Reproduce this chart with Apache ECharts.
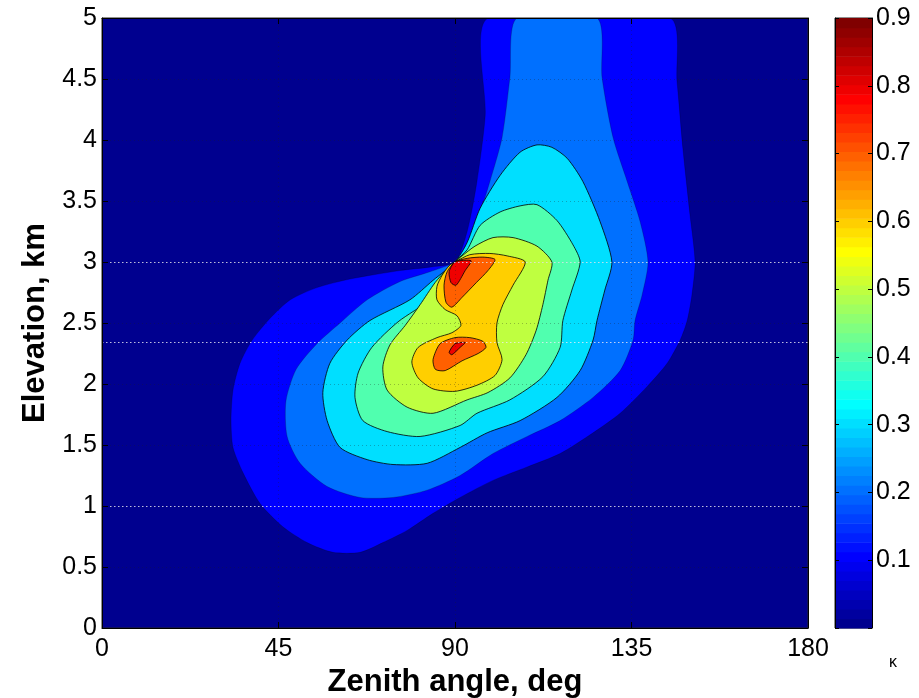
<!DOCTYPE html>
<html>
<head>
<meta charset="utf-8">
<script src="https://cdn.jsdelivr.net/npm/echarts@6/dist/echarts.min.js"></script>
<style>
  html, body { margin: 0; padding: 0; background: #fff; }
  #chart { width: 919px; height: 698px; }
</style>
</head>
<body>
<div id="chart"></div>
<script>
// Filled contours of kappa over zenith angle (deg) and elevation (km).
// Each ring is a closed contour boundary, [zenith angle, elevation] pairs.
const contourLevels = [0.1, 0.2, 0.3, 0.4, 0.5, 0.6, 0.7, 0.8];

const ring01 = [[98.4,5.0],[97.7,4.2],[95.6,3.66],[93.1,3.25],[90,3.0],[84.0,2.96],[76.0,2.93],[63.2,2.86],[54.8,2.79],[48.0,2.69],[42.9,2.54],[38.3,2.36],[35.2,2.17],[33.4,1.95],[32.9,1.70],[33.4,1.48],[36.0,1.27],[40.3,1.02],[46.1,0.83],[52.3,0.70],[58.9,0.62],[65.8,0.62],[71.6,0.70],[77.8,0.80],[84.4,0.94],[91.3,1.07],[99.7,1.21],[108.4,1.32],[116.8,1.43],[125.2,1.60],[132.1,1.76],[139.0,1.98],[144.1,2.17],[147.4,2.36],[149.2,2.52],[150.4,2.73],[151.2,3.0],[149.9,3.39],[148.1,3.93],[146.6,4.48],[144.8,5.0]];

const ring02 = [[105.8,5.0],[104.0,4.51],[102.0,4.02],[98.9,3.66],[95.6,3.33],[92.6,3.11],[90,3.0],[83.6,2.92],[76.0,2.84],[67.6,2.69],[60.7,2.50],[54.8,2.33],[49.5,2.12],[46.9,1.86],[47.2,1.57],[50.5,1.35],[57.4,1.16],[65.8,1.07],[74.2,1.07],[82.9,1.13],[91.3,1.25],[99.7,1.43],[108.4,1.57],[116.8,1.70],[125.2,1.89],[132.1,2.11],[135.4,2.36],[135.9,2.52],[137.7,2.73],[139.2,3.0],[137.2,3.33],[133.9,3.66],[130.3,4.02],[127.5,4.51],[126.2,5.0]];

const ring03 = [[90,3.0],[93.1,3.16],[96.4,3.44],[101.5,3.71],[106.6,3.90],[110.9,3.96],[114.7,3.94],[118.6,3.85],[122.6,3.66],[127.0,3.33],[130.0,3.0],[128.2,2.77],[126.2,2.52],[125.2,2.36],[121.9,2.11],[116.0,1.89],[106.6,1.70],[98.2,1.60],[91.3,1.48],[82.9,1.35],[74.2,1.34],[67.6,1.38],[60.7,1.48],[57.4,1.70],[56.3,1.93],[58.1,2.17],[62.5,2.36],[68.3,2.52],[78.5,2.69],[84.4,2.85]];

const ring04 = [[90,3.0],[93.1,3.10],[96.4,3.30],[101.5,3.41],[106.6,3.46],[110.9,3.47],[116.0,3.34],[120.1,3.14],[121.9,3.0],[119.8,2.77],[117.5,2.52],[116.8,2.30],[112.4,2.06],[104.0,1.87],[95.6,1.76],[91.3,1.66],[81.1,1.57],[72.7,1.61],[66.5,1.70],[64.5,1.89],[65.3,2.09],[68.8,2.30],[75.5,2.51],[83.6,2.69],[87.5,2.85]];

const ring05 = [[90,3.0],[91.8,3.05],[95.1,3.13],[99.7,3.20],[104.8,3.20],[110.9,3.13],[114.7,3.0],[113.7,2.85],[112.4,2.65],[110.7,2.44],[108.1,2.24],[104.0,2.05],[98.4,1.93],[93.1,1.87],[84.4,1.76],[77.8,1.81],[72.7,1.95],[71.6,2.14],[73.4,2.32],[77.3,2.48],[81.1,2.65],[84.9,2.83],[88.2,2.95]];

const ring06 = [[90,3.0],[93.8,3.06],[98.9,3.07],[103.3,3.05],[107.9,3.0],[104.8,2.81],[102.2,2.65],[100.7,2.50],[100.7,2.34],[102.0,2.20],[100.2,2.07],[95.6,1.99],[90.0,1.94],[84.4,1.96],[80.6,2.05],[79.0,2.18],[80.6,2.30],[85.4,2.38],[89.2,2.42],[91.5,2.48],[90.5,2.56],[87.5,2.61],[85.4,2.69],[85.4,2.80],[86.7,2.89],[88.5,2.97]];

const ring07a = [[90,3.0],[93.1,3.03],[97.1,3.04],[100.2,3.02],[98.4,2.93],[95.4,2.83],[91.8,2.71],[89.2,2.63],[87.7,2.67],[87.2,2.81],[88.0,2.92]];
const ring07b = [[84.4,2.20],[86.2,2.33],[90.0,2.38],[93.8,2.38],[97.1,2.35],[97.9,2.30],[95.9,2.25],[91.8,2.19],[87.5,2.11],[85.0,2.12]];

const ring08a = [[90,3.0],[94.1,3.01],[92.6,2.93],[90.3,2.81],[89.0,2.83],[88.5,2.92]];
const ring08b = [[88.5,2.26],[90.0,2.33],[92.6,2.34],[91.3,2.30],[89.2,2.24]];

// Level of each ring, drawn lowest first so higher levels sit on top
const ringLevels = [0.1, 0.2, 0.3, 0.4, 0.5, 0.6, 0.7, 0.7, 0.8, 0.8];
const rings = [ring01, ring02, ring03, ring04, ring05, ring06, ring07a, ring07b, ring08a, ring08b];

// Dotted reference elevations (km)
const markedElevations = [3, 2.34, 1];

// Colour scale limits
const colorMin = 0;
const colorMax = 0.9;

// MATLAB-style 64 entry jet colormap
function jetColor(i) {
  const u = j => (j >= 1 && j <= 16) ? j / 16 : (j >= 17 && j <= 31) ? 1 : (j >= 32 && j <= 47) ? (48 - j) / 16 : 0;
  const r = u(i - 24), g = u(i - 8), b = u(i + 8);
  return 'rgb(' + Math.round(r * 255) + ',' + Math.round(g * 255) + ',' + Math.round(b * 255) + ')';
}
function levelColor(v) {
  const idx = Math.min(64, Math.floor((v - colorMin) / (colorMax - colorMin) * 64 + 1e-9) + 1);
  return jetColor(idx);
}

const FONT = 'Liberation Sans, Arial, Helvetica, sans-serif';
const chart = echarts.init(document.getElementById('chart'), null, { renderer: 'canvas' });

const cmapIndex = [];
for (let i = 1; i <= 64; i++) cmapIndex.push(i);

const option = {
  backgroundColor: '#ffffff',
  animation: false,
  grid: [
    { left: 102, top: 18, width: 706, height: 610, outerBoundsMode: 'none', show: true, backgroundColor: levelColor(0), borderColor: '#222', borderWidth: 1 },
    { left: 835, top: 18, width: 37, height: 610, outerBoundsMode: 'none', show: true, borderColor: '#222', borderWidth: 1 }
  ],
  xAxis: [
    {
      gridIndex: 0, type: 'value', min: 0, max: 180, interval: 45, z: 5,
      name: 'Zenith angle, deg', nameLocation: 'middle', nameGap: 39,
      nameTextStyle: { fontSize: 31, fontWeight: 'bold', color: '#000', fontFamily: FONT },
      axisLine: { show: true, onZero: false, lineStyle: { color: '#000', width: 1 } },
      axisTick: { show: true, inside: true, length: 6, lineStyle: { color: '#000' } },
      axisLabel: { fontSize: 25, color: '#000', margin: 9, fontFamily: FONT },
      splitLine: { show: true, lineStyle: { type: [1, 3], color: 'rgba(30,30,30,0.3)', width: 1 } }
    },
    {
      gridIndex: 0, type: 'value', position: 'top', min: 0, max: 180, interval: 45, z: 5,
      axisLine: { show: true, onZero: false, lineStyle: { color: '#000' } },
      axisTick: { show: true, inside: true, length: 6, lineStyle: { color: '#000' } },
      axisLabel: { show: false }, splitLine: { show: false }
    },
    { gridIndex: 1, type: 'value', min: 0, max: 1, show: false }
  ],
  yAxis: [
    {
      gridIndex: 0, type: 'value', min: 0, max: 5, interval: 0.5, z: 5,
      name: 'Elevation, km', nameLocation: 'middle', nameGap: 47,
      nameTextStyle: { fontSize: 31, fontWeight: 'bold', color: '#000', fontFamily: FONT },
      axisLine: { show: true, onZero: false, lineStyle: { color: '#000', width: 1 } },
      axisTick: { show: true, inside: true, length: 6, lineStyle: { color: '#000' } },
      axisLabel: { fontSize: 25, color: '#000', margin: 5, fontFamily: FONT },
      splitLine: { show: true, lineStyle: { type: [1, 3], color: 'rgba(30,30,30,0.3)', width: 1 } }
    },
    {
      gridIndex: 0, type: 'value', position: 'right', min: 0, max: 5, interval: 0.5, z: 5,
      axisLine: { show: true, onZero: false, lineStyle: { color: '#000' } },
      axisTick: { show: true, inside: true, length: 6, lineStyle: { color: '#000' } },
      axisLabel: { show: false }, splitLine: { show: false }
    },
    {
      gridIndex: 1, type: 'value', position: 'right', min: colorMin, max: colorMax, interval: 0.1, z: 5,
      axisLine: { show: true, onZero: false, lineStyle: { color: '#000' } },
      axisTick: { show: true, inside: true, length: 4, lineStyle: { color: '#000' } },
      axisLabel: {
        fontSize: 25, color: '#000', margin: 4, fontFamily: FONT,
        formatter: v => (v <= colorMin + 1e-9 ? '' : v.toFixed(1))
      },
      splitLine: { show: false }
    },
    {
      gridIndex: 1, type: 'value', position: 'left', min: colorMin, max: colorMax, interval: 0.1, z: 5,
      axisLine: { show: true, onZero: false, lineStyle: { color: '#000' } },
      axisTick: { show: true, inside: true, length: 4, lineStyle: { color: '#000' } },
      axisLabel: { show: false }, splitLine: { show: false }
    }
  ],
  series: [
    {
      name: 'kappa',
      type: 'custom',
      xAxisIndex: 0, yAxisIndex: 0,
      clip: true, silent: true, z: 2,
      data: rings.map(r => r[0]),
      renderItem: function (params, api) {
        const ring = rings[params.dataIndex];
        const level = ringLevels[params.dataIndex];
        const pts = ring.map(p => api.coord(p));
        return {
          type: 'polygon',
          shape: { points: pts, smooth: 0.25 },
          style: {
            fill: levelColor(level),
            stroke: level < 0.25 ? 'rgba(0,0,0,0.25)' : '#000',
            lineWidth: 0.8
          }
        };
      },
      markLine: {
        silent: true, symbol: ['none', 'none'], label: { show: false },
        lineStyle: { type: [1.5, 2.5], color: 'rgba(235,235,245,0.8)', width: 1 },
        data: markedElevations.map(v => ({ yAxis: v }))
      }
    },
    {
      name: 'colorbar',
      type: 'custom',
      xAxisIndex: 2, yAxisIndex: 2,
      silent: true, z: 2,
      data: cmapIndex.map(i => [0.5, (i - 0.5) * (colorMax - colorMin) / 64]),
      renderItem: function (params, api) {
        const i = cmapIndex[params.dataIndex];
        const lo = colorMin + (i - 1) * (colorMax - colorMin) / 64;
        const hi = colorMin + i * (colorMax - colorMin) / 64;
        const p0 = api.coord([0, lo]);
        const p1 = api.coord([1, hi]);
        return {
          type: 'rect',
          shape: { x: p0[0], y: p1[1], width: p1[0] - p0[0], height: p0[1] - p1[1] + 0.6 },
          style: { fill: jetColor(i) }
        };
      }
    }
  ],
  graphic: [
    { type: 'text', left: 889, top: 655, style: { text: 'κ', fontSize: 16, fill: '#000', fontFamily: FONT } }
  ]
};

chart.setOption(option);
</script>
</body>
</html>
